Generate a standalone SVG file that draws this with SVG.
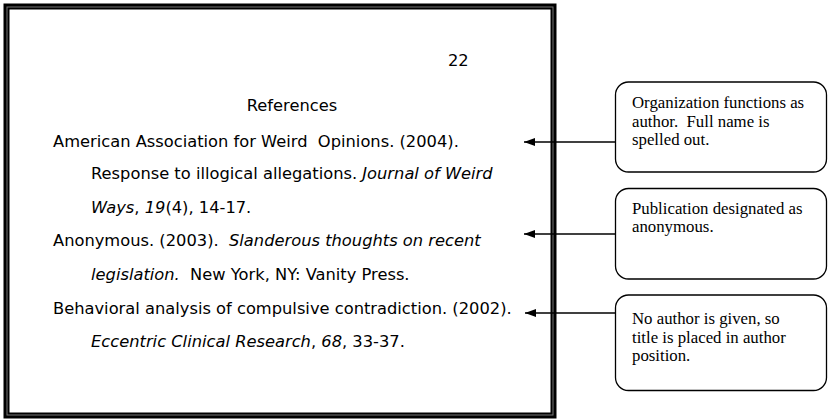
<svg xmlns="http://www.w3.org/2000/svg" width="828" height="420" viewBox="0 0 828 420">
<style>
.ref{font-family:"DejaVu Sans",Verdana,sans-serif;font-size:16.3px;fill:#000}
.it{font-style:italic}
.note{font-family:"Liberation Serif","Times New Roman",serif;font-size:16.8px;fill:#000}
.box{fill:#fff;stroke:#000;stroke-width:1.3}
.conn{stroke:#000;stroke-width:1.5;fill:none}
</style>
<defs>
<marker id="ah" markerWidth="12" markerHeight="10" refX="11" refY="5" orient="auto" markerUnits="userSpaceOnUse">
<path d="M0,1 L11,5 L0,9 Z" fill="#000"/>
</marker>
</defs>
<rect width="828" height="420" fill="#fff"/>
<g id="page">
<rect x="6.5" y="6.5" width="547" height="409" fill="none" stroke="#000" stroke-width="6"/>
<rect x="7" y="7" width="546" height="408" fill="none" stroke="#777" stroke-width="1"/>
<text class="ref" x="448" y="66">22</text>
<text class="ref" x="292" y="111" text-anchor="middle">References</text>
<text class="ref" x="53" y="147" xml:space="preserve">American Association for Weird  Opinions. (2004).</text>
<text class="ref" x="91" y="179">Response to illogical allegations. <tspan class="it">Journal of Weird</tspan></text>
<text class="ref" x="91" y="213"><tspan class="it">Ways</tspan>, <tspan class="it">19</tspan>(4), 14-17.</text>
<text class="ref" x="53" y="246" xml:space="preserve">Anonymous. (2003).  <tspan class="it">Slanderous thoughts on recent</tspan></text>
<text class="ref" x="91" y="280" xml:space="preserve"><tspan class="it">legislation.</tspan>  New York, NY: Vanity Press.</text>
<text class="ref" x="53" y="314">Behavioral analysis of compulsive contradiction. (2002).</text>
<text class="ref" x="91" y="347"><tspan class="it">Eccentric Clinical Research</tspan>, <tspan class="it">68</tspan>, 33-37.</text>
</g>
<g id="connectors">
<line class="conn" x1="615" y1="142" x2="524" y2="142" marker-end="url(#ah)"/>
<line class="conn" x1="615" y1="234" x2="524" y2="234" marker-end="url(#ah)"/>
<line class="conn" x1="615" y1="313" x2="525" y2="313" marker-end="url(#ah)"/>
</g>
<g id="note1">
<rect class="box" x="615.5" y="82" width="211" height="90" rx="13"/>
<text class="note" x="632" y="108">Organization functions as</text>
<text class="note" x="632" y="126.5" xml:space="preserve">author.  Full name is</text>
<text class="note" x="632" y="145">spelled out.</text>
</g>
<g id="note2">
<rect class="box" x="615.5" y="188.5" width="211" height="90.5" rx="13"/>
<text class="note" x="632" y="213.5">Publication designated as</text>
<text class="note" x="632" y="232">anonymous.</text>
</g>
<g id="note3">
<rect class="box" x="615.5" y="295" width="211" height="95.5" rx="13"/>
<text class="note" x="632" y="324">No author is given, so</text>
<text class="note" x="632" y="342.5">title is placed in author</text>
<text class="note" x="632" y="361">position.</text>
</g>
</svg>
